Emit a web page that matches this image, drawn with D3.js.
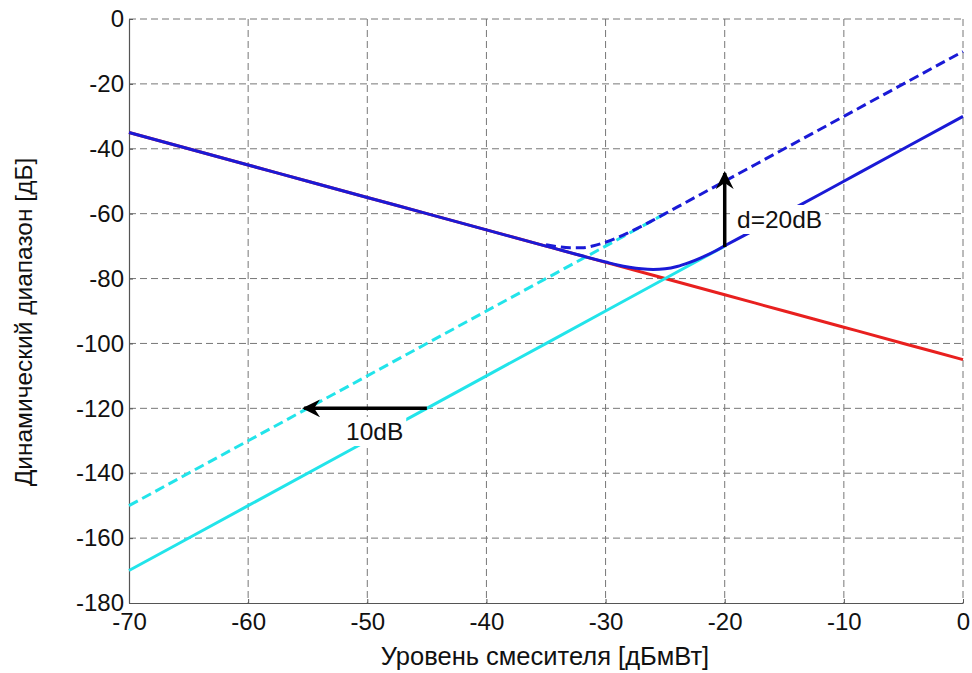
<!DOCTYPE html>
<html>
<head>
<meta charset="utf-8">
<script src="https://cdn.jsdelivr.net/npm/d3@7"></script>
<style>
  body { margin: 0; background: #fff; }
  svg text { font-family: "Liberation Sans", Arial, sans-serif; fill: #111; }
</style>
</head>
<body>
<div id="chart"></div>
<script>
// values (x = mixer level, dBmW; y = dynamic range, dB)
var redX = [-70, -65, -60, -55, -50, -45, -40, -35, -30, -25, -20, -15, -10, -5, 0];
var redY = [-35, -40, -45, -50, -55, -60, -65, -70, -75, -80, -85, -90, -95, -100, -105];

var cyanX = [-70, -60, -50, -40, -30, -25, -20];
var cyanY = [-170, -150, -130, -110, -90, -80, -70];

var cyanDashX = [-70, -60, -50, -40, -35, -30, -25];
var cyanDashY = [-150, -130, -110, -90, -80, -70, -60];

var blueX = [-70, -65, -60, -55, -50, -45, -40, -35, -30, -29, -28, -27, -26, -25, -24, -23, -22, -21, -20, -18, -16, -14, -12, -10, -5, 0];
var blueY = [-35, -40, -45, -50, -55, -60, -65, -70, -74.9, -75.8, -76.5, -77, -77.2, -77, -76.3, -75.1, -73.6, -71.9, -69.9, -66, -62, -58, -54, -50, -40, -30];

var blueDashX = [-35, -34, -33, -32, -31, -30, -29, -28, -27, -26, -25, -24, -22, -20, -15, -10, -5, 0];
var blueDashY = [-69.6, -70.2, -70.5, -70.5, -69.9, -68.8, -67.4, -65.7, -63.9, -62, -60, -58, -54, -50, -40, -30, -20, -10];

var xTicks = [-70, -60, -50, -40, -30, -20, -10, 0];
var yTicks = [0, -20, -40, -60, -80, -100, -120, -140, -160, -180];

var W = 972, H = 673;
var margin = {left: 129, top: 19, right: 9, bottom: 70};

var svg = d3.select("#chart").append("svg")
	.attr("width", W)
	.attr("height", H);

var x = d3.scaleLinear().domain([-70, 0]).range([margin.left, W - margin.right]);
var y = d3.scaleLinear().domain([-180, 0]).range([H - margin.bottom, margin.top]);

// grid
svg.append("g").selectAll("line")
	.data(xTicks.slice(1))
	.enter().append("line")
	.attr("x1", d => x(d)).attr("x2", d => x(d))
	.attr("y1", y(0)).attr("y2", y(-180))
	.attr("stroke", "#777").attr("stroke-width", 1)
	.attr("stroke-dasharray", "7,4");

svg.append("g").selectAll("line")
	.data(yTicks.slice(0, -1))
	.enter().append("line")
	.attr("x1", x(-70)).attr("x2", x(0))
	.attr("y1", d => y(d)).attr("y2", d => y(d))
	.attr("stroke", "#777").attr("stroke-width", 1)
	.attr("stroke-dasharray", "7,4");

// axes (left + bottom solid, ticks inside), plain hyphen minus like the original
var fmt = d => String(d);
var xAxis = d3.axisBottom(x).tickValues(xTicks).tickFormat(fmt).tickSizeInner(-4).tickSizeOuter(0).tickPadding(10);
var yAxis = d3.axisLeft(y).tickValues(yTicks).tickFormat(fmt).tickSizeInner(-4).tickSizeOuter(0).tickPadding(10);

var gx = svg.append("g").attr("transform", "translate(0," + y(-180) + ")").call(xAxis);
var gy = svg.append("g").attr("transform", "translate(" + x(-70) + ",0)").call(yAxis);

[gx, gy].forEach(function(g) {
	g.select(".domain").attr("stroke", "#555").attr("stroke-width", 1.2);
	g.selectAll(".tick line").attr("stroke", "#555");
	g.selectAll(".tick text").attr("font-size", "24px").attr("fill", "#111")
		.attr("font-family", "Liberation Sans, Arial, sans-serif");
});
gy.selectAll(".tick text").attr("dx", "5px");

// curves
function pts(xs, ys) { return xs.map(function(v, i) { return [v, ys[i]]; }); }
var line = d3.line().x(d => x(d[0])).y(d => y(d[1])).curve(d3.curveMonotoneX);

var curves = [
	{p: pts(redX, redY), c: "#e8201f", dash: null},
	{p: pts(cyanX, cyanY), c: "#22e4ea", dash: null},
	{p: pts(cyanDashX, cyanDashY), c: "#22e4ea", dash: "10,5"},
	{p: pts(blueX, blueY), c: "#1a1ad6", dash: null},
	{p: pts(blueDashX, blueDashY), c: "#1a1ad6", dash: "10,5"}
];

svg.append("g").selectAll("path")
	.data(curves)
	.enter().append("path")
	.attr("d", d => line(d.p))
	.attr("fill", "none")
	.attr("stroke", d => d.c)
	.attr("stroke-width", 3)
	.attr("stroke-dasharray", d => d.dash);

// labels with white boxes
function label(txt, px, py) {
	var g = svg.append("g");
	var t = g.append("text")
		.attr("x", px).attr("y", py)
		.attr("font-size", "24.5px")
		.text(txt);
	var b = t.node().getBBox();
	g.insert("rect", "text")
		.attr("x", b.x - 3).attr("y", b.y - 1)
		.attr("width", b.width + 6).attr("height", b.height + 2)
		.attr("fill", "#fff");
}
label("d=20dB", 737, 228);
label("10dB", 346, 440);

// arrows
svg.append("defs").append("marker")
	.attr("id", "head")
	.attr("viewBox", "0 0 18 18")
	.attr("refX", 16).attr("refY", 9)
	.attr("markerWidth", 18).attr("markerHeight", 18)
	.attr("markerUnits", "userSpaceOnUse")
	.attr("orient", "auto")
	.append("path")
	.attr("d", "M0,0 L18,9 L0,18 L6,9 Z")
	.attr("fill", "#000");

var arrows = [
	{x1: -20, y1: -70.3, x2: -20, y2: -47.5},
	{x1: -45, y1: -120, x2: -55.3, y2: -120}
];
svg.append("g").selectAll("line")
	.data(arrows)
	.enter().append("line")
	.attr("x1", d => x(d.x1)).attr("y1", d => y(d.y1))
	.attr("x2", d => x(d.x2)).attr("y2", d => y(d.y2))
	.attr("stroke", "#000").attr("stroke-width", 3.5)
	.attr("marker-end", "url(#head)");

// axis titles
svg.append("text")
	.attr("x", 545).attr("y", 665)
	.attr("text-anchor", "middle")
	.attr("font-size", "25.5px")
	.text("Уровень смесителя [дБмВт]");

svg.append("text")
	.attr("transform", "translate(32,322) rotate(-90)")
	.attr("text-anchor", "middle")
	.attr("font-size", "24.5px")
	.text("Динамический диапазон [дБ]");
</script>
</body>
</html>
